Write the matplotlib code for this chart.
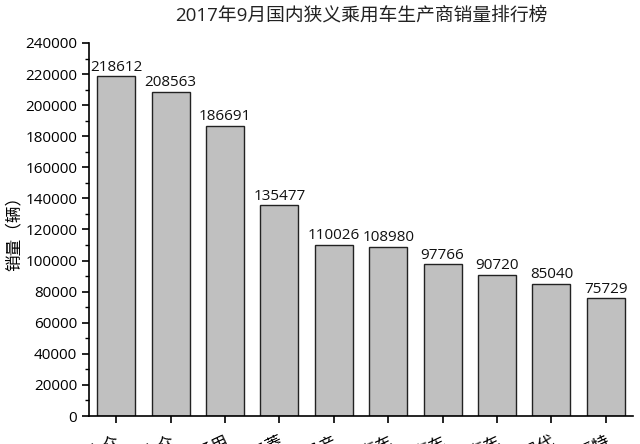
import numpy as np
import matplotlib.pyplot as plt
from matplotlib.ticker import MultipleLocator

plt.rcParams['font.family'] = ['Open Sans', 'Noto Sans CJK SC', 'DejaVu Sans']

makers = ['一汽大众', '上汽大众', '上汽通用', '上汽通用五菱', '东风日产',
          '长安汽车', '吉利汽车', '长城汽车', '北京现代', '长安福特']
sales = [218612, 208563, 186691, 135477, 110026, 108980, 97766, 90720, 85040, 75729]

fig = plt.figure(figsize=(6.4, 4.44), dpi=100)
ax = fig.add_axes([89/640, 1 - 416/444, 544/640, 373/444])

x = np.arange(len(makers))
ax.bar(x, sales, width=0.7, color='#c0c0c0', edgecolor='#222222', linewidth=1.0)
for xi, v in zip(x, sales):
    ax.text(xi, v + 1000, str(v), ha='center', va='bottom', fontsize=11, color='#111111')

ax.set_xlim(-0.5, 9.5)
ax.set_ylim(0, 240000)
ax.yaxis.set_major_locator(MultipleLocator(20000))
ax.yaxis.set_minor_locator(MultipleLocator(10000))
ax.set_xticks(x)
ax.set_xticklabels(makers, rotation=25, ha='right', rotation_mode='anchor', fontsize=12)
ax.tick_params(axis='both', which='major', direction='out', length=5, width=1.2, labelsize=11)
ax.tick_params(axis='x', labelsize=12, pad=8)
ax.tick_params(axis='y', which='minor', direction='out', length=3, width=1.0)

for s in ['top', 'right']:
    ax.spines[s].set_visible(False)
for s in ['left', 'bottom']:
    ax.spines[s].set_linewidth(1.2)

ax.set_ylabel('销量（辆）', fontsize=12, labelpad=2)
fig.text(361/640, 1 - 16/444, '2017年9月国内狭义乘用车生产商销量排行榜',
         ha='center', va='center', fontsize=13.5, color='#222222')

fig.savefig('out.png', dpi=100)
